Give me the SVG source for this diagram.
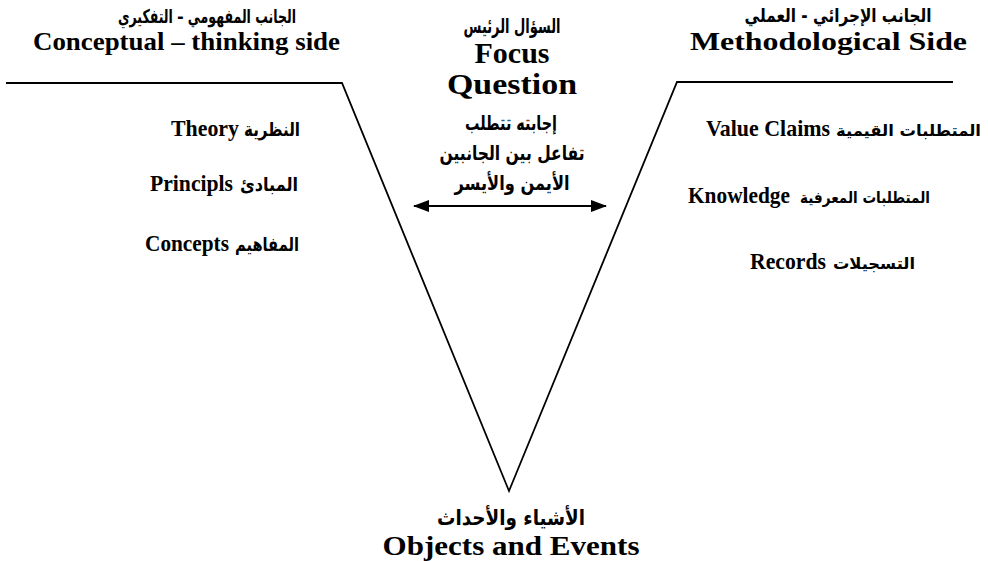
<svg xmlns="http://www.w3.org/2000/svg" width="988" height="561" viewBox="0 0 988 561">
<style>
.en{font-family:"Liberation Serif","Times New Roman",serif;font-weight:bold;fill:#000}
.ar{font-family:"DejaVu Sans",sans-serif;font-weight:bold;fill:#000}
.c{text-anchor:middle}
.ln{fill:none;stroke:#000;stroke-width:1.8}
</style>
<defs>
<marker id="ah" viewBox="0 0 16 12" refX="15" refY="6" markerWidth="16" markerHeight="12" markerUnits="userSpaceOnUse" orient="auto-start-reverse">
<path d="M0,0 L16,6 L0,12 Z" fill="#000"/>
</marker>
</defs>
<rect width="988" height="561" fill="#fff"/>

<g id="connectors">
<polyline class="ln" points="6,83 342,83 509,491 677,82 953,82"/>
<line class="ln" x1="414" y1="206" x2="606" y2="206" marker-start="url(#ah)" marker-end="url(#ah)"/>
</g>

<g id="conceptual-side">
<text class="ar c" x="207" y="23" font-size="19" textLength="178" lengthAdjust="spacingAndGlyphs">الجانب المفهومي – التفكيري</text>
<text class="en" x="33" y="50" font-size="26" textLength="307" lengthAdjust="spacingAndGlyphs">Conceptual – thinking side</text>
</g>

<g id="methodological-side">
<text class="ar c" x="838" y="22" font-size="19" textLength="187" lengthAdjust="spacingAndGlyphs">الجانب الإجرائي - العملي</text>
<text class="en" x="690" y="50" font-size="26" textLength="277" lengthAdjust="spacingAndGlyphs">Methodological Side</text>
</g>

<g id="focus-question">
<text class="ar c" x="512" y="33" font-size="20" textLength="97" lengthAdjust="spacingAndGlyphs">السؤال الرئيس</text>
<text class="en c" x="512" y="63" font-size="30">Focus</text>
<text class="en c" x="512" y="94" font-size="30" textLength="130" lengthAdjust="spacingAndGlyphs">Question</text>
<text class="ar c" x="511" y="130" font-size="20" textLength="92" lengthAdjust="spacingAndGlyphs">إجابته تتطلب</text>
<text class="ar c" x="512" y="160" font-size="20" textLength="145" lengthAdjust="spacingAndGlyphs">تفاعل بين الجانبين</text>
<text class="ar c" x="512" y="190" font-size="20" textLength="115" lengthAdjust="spacingAndGlyphs">الأيمن والأيسر</text>
</g>

<g id="theory">
<text class="en" x="171" y="136" font-size="23" textLength="68" lengthAdjust="spacingAndGlyphs">Theory</text>
<text class="ar" x="244" y="136" font-size="19" textLength="56" lengthAdjust="spacingAndGlyphs">النظرية</text>
</g>
<g id="principles">
<text class="en" x="150" y="191" font-size="23" textLength="83" lengthAdjust="spacingAndGlyphs">Principls</text>
<text class="ar" x="240" y="191" font-size="19" textLength="58" lengthAdjust="spacingAndGlyphs">المبادئ</text>
</g>
<g id="concepts">
<text class="en" x="145" y="251" font-size="23" textLength="84" lengthAdjust="spacingAndGlyphs">Concepts</text>
<text class="ar" x="235" y="251" font-size="19" textLength="64" lengthAdjust="spacingAndGlyphs">المفاهيم</text>
</g>

<g id="value-claims">
<text class="en" x="706" y="136" font-size="23" textLength="124" lengthAdjust="spacingAndGlyphs">Value Claims</text>
<text class="ar" x="836" y="136" font-size="16" textLength="145" lengthAdjust="spacingAndGlyphs">المتطلبات القيمية</text>
</g>
<g id="knowledge">
<text class="en" x="688" y="203" font-size="23" textLength="102" lengthAdjust="spacingAndGlyphs">Knowledge</text>
<text class="ar" x="800" y="203" font-size="16" textLength="130" lengthAdjust="spacingAndGlyphs">المتطلبات المعرفية</text>
</g>
<g id="records">
<text class="en" x="750" y="269" font-size="23" textLength="76" lengthAdjust="spacingAndGlyphs">Records</text>
<text class="ar" x="833" y="269" font-size="16" textLength="82" lengthAdjust="spacingAndGlyphs">التسجيلات</text>
</g>

<g id="objects-events">
<text class="ar c" x="511" y="525" font-size="21" textLength="148" lengthAdjust="spacingAndGlyphs">الأشياء والأحداث</text>
<text class="en c" x="511" y="555" font-size="28" textLength="257" lengthAdjust="spacingAndGlyphs">Objects and Events</text>
</g>
</svg>
